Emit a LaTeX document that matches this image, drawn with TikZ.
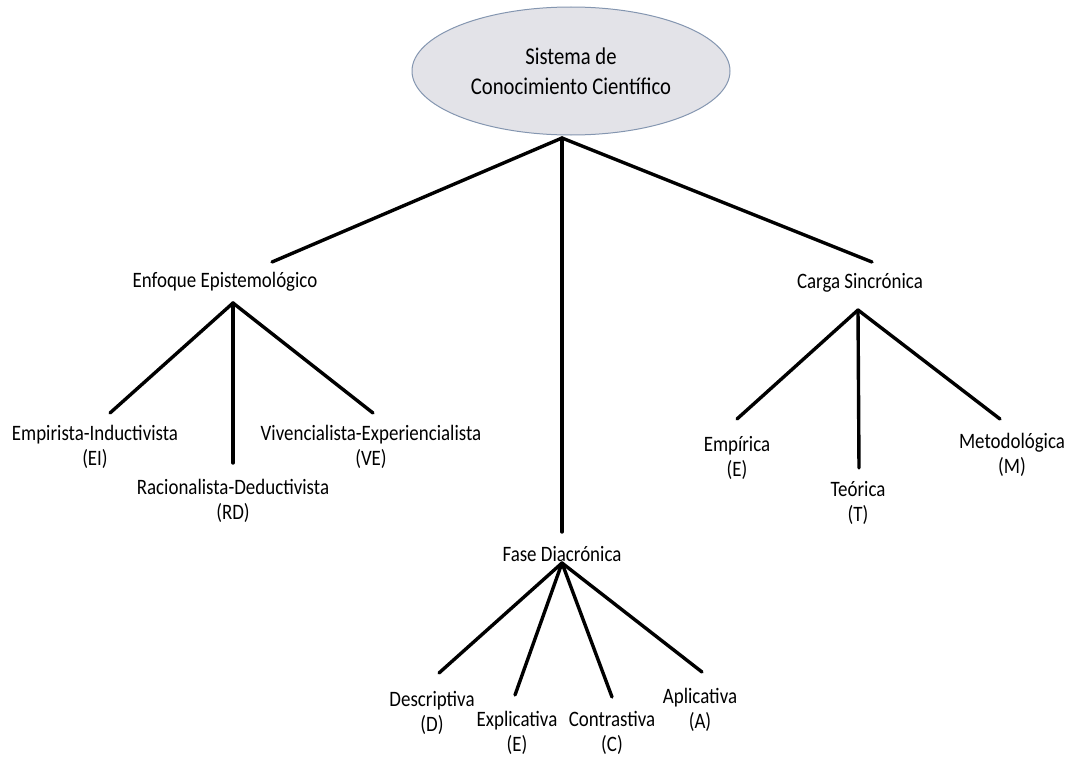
\documentclass[tikz,border=0pt]{standalone}
\usepackage{fontspec}
\setmainfont{Carlito}[FakeStretch=0.86]
\usetikzlibrary{shapes.geometric}
\definecolor{ellfill}{HTML}{E3E3E8}
\definecolor{elldraw}{HTML}{8496B0}
\tikzset{
  conn/.style={line width=3.4pt, black, line cap=round},
  lbl/.style={inner sep=0pt, align=center, font=\fontsize{22}{25}\selectfont},
  root/.style={ellipse, draw=elldraw, line width=1pt, fill=ellfill, inner sep=0pt,
    minimum width=318pt, minimum height=128pt, align=center,
    font=\fontsize{24}{30}\selectfont},
}
\begin{document}
\begin{tikzpicture}[x=1pt,y=-1pt]
\useasboundingbox (0,0) rectangle (1071,760);
% root
\node[root] (root) at (571,71) {Sistema de\\Conocimiento Científico};
\coordinate (rootA) at (562,138);
% level 1
\node[lbl] (enf) at (225,282) {Enfoque Epistemológico};
\node[lbl] (carga) at (860,283) {Carga Sincrónica};
\node[lbl] (fase) at (562,554) {Fase Diacrónica};
\coordinate (enfT) at (272,262);
\coordinate (cargaT) at (872,262);
\coordinate (faseT) at (562,532);
\draw[conn] (rootA) -- (enfT);
\draw[conn] (rootA) -- (faseT);
\draw[conn] (rootA) -- (cargaT);
% Enfoque children
\coordinate (enfA) at (233,303);
\node[lbl] (ei) at (95,447) {Empirista-Inductivista\\(EI)};
\node[lbl] (rd) at (233,501) {Racionalista-Deductivista\\(RD)};
\node[lbl] (ve) at (371,447) {Vivencialista-Experiencialista\\(VE)};
\coordinate (eiT) at (110,413);
\coordinate (rdT) at (233,463);
\coordinate (veT) at (373,413);
\draw[conn] (enfA) -- (eiT);
\draw[conn] (enfA) -- (rdT);
\draw[conn] (enfA) -- (veT);
% Carga children
\coordinate (cargaA) at (858,310);
\node[lbl] (emp) at (737,458) {Empírica\\(E)};
\node[lbl] (teo) at (858,503) {Teórica\\(T)};
\node[lbl] (met) at (1012,455) {Metodológica\\(M)};
\coordinate (empT) at (737,419);
\coordinate (teoT) at (859,468);
\coordinate (metT) at (1000,419);
\draw[conn] (cargaA) -- (empT);
\draw[conn] (cargaA) -- (teoT);
\draw[conn] (cargaA) -- (metT);
% Fase children
\coordinate (faseA) at (562,563);
\node[lbl] (des) at (432,713) {Descriptiva\\(D)};
\node[lbl] (exp) at (517,733) {Explicativa\\(E)};
\node[lbl] (con) at (612,733) {Contrastiva\\(C)};
\node[lbl] (apl) at (700,710) {Aplicativa\\(A)};
\coordinate (desT) at (439,673);
\coordinate (expT) at (515,695);
\coordinate (conT) at (612,697);
\coordinate (aplT) at (702,672);
\draw[conn] (faseA) -- (desT);
\draw[conn] (faseA) -- (expT);
\draw[conn] (faseA) -- (conT);
\draw[conn] (faseA) -- (aplT);
\end{tikzpicture}
\end{document}
